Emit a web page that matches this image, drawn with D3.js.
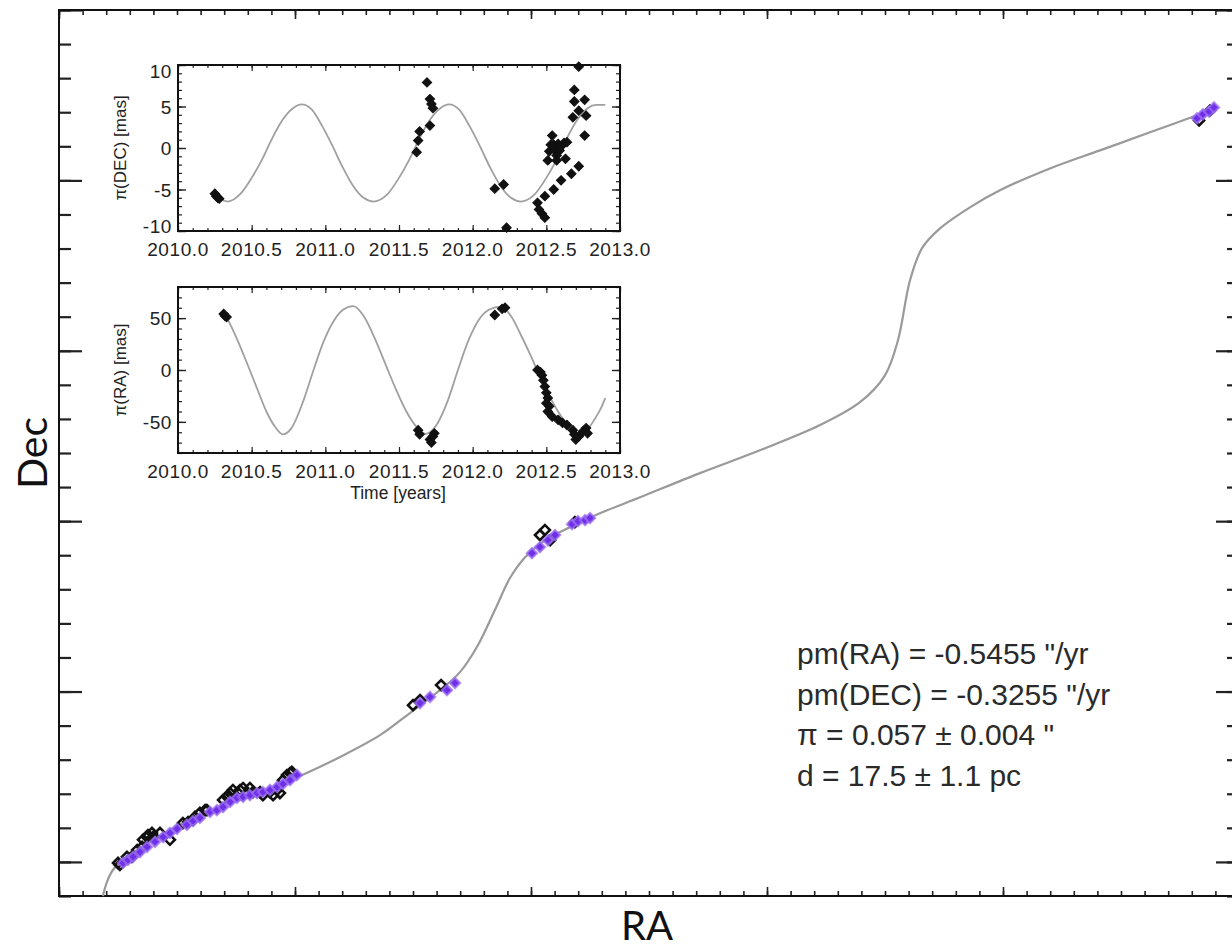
<!DOCTYPE html>
<html><head><meta charset="utf-8">
<script src="https://cdn.jsdelivr.net/npm/d3@7"></script>
<style>body{margin:0;background:#fff;} svg{display:block}</style>
</head><body><svg id="c" width="1232" height="950"></svg>
<script>
// ---------- main sky-path panel (arbitrary units, no tick labels) ----------
const pathCurve = [[1.86,-1.0],[2.03,-0.59],[2.29,-0.23],[2.71,0.06],[3.86,0.59],[5.13,1.09],[6.40,1.50],[7.67,1.82],[8.94,2.14],[10.21,2.52],[11.91,3.08],[13.60,3.72],[14.87,4.37],[16.14,5.04],[16.99,5.57],[17.75,6.36],[18.47,7.39],[19.11,8.33],[19.75,8.94],[20.59,9.44],[21.65,9.82],[22.92,10.23],[24.62,10.70],[27.16,11.41],[29.70,12.08],[32.25,12.82],[33.94,13.49],[35.00,14.28],[35.55,15.31],[36.06,17.07],[36.57,18.01],[37.33,18.59],[38.60,19.21],[39.87,19.71],[41.99,20.35],[44.11,20.88],[46.23,21.41],[48.22,21.91]];
const obsRA  = [2.50,2.58,2.88,3.09,3.31,3.52,3.56,3.73,3.77,3.94,3.98,4.28,4.70,5.25,5.47,5.68,5.76,5.97,6.19,6.27,6.95,7.12,7.25,7.37,7.67,7.80,8.09,8.22,8.52,8.64,8.94,9.07,9.24,9.36,9.49,9.66,9.79,9.87,15.00,15.30,16.19,20.38,20.59,20.81,21.86,48.31,48.77];
const obsDec = [-0.03,-0.09,0.15,0.15,0.35,0.44,0.65,0.73,0.79,0.85,0.73,0.85,0.65,1.14,1.17,1.23,1.32,1.44,1.52,1.52,1.82,1.91,2.02,2.11,2.11,2.17,2.17,2.05,2.05,1.96,2.05,1.96,2.11,2.02,2.40,2.55,2.61,2.64,4.60,4.75,5.19,9.59,9.74,9.44,9.97,21.76,22.05];
const fitRA  = [2.71,2.92,3.14,3.43,3.73,4.07,4.41,4.70,5.00,5.42,5.68,5.97,6.40,6.69,6.95,7.25,7.54,7.80,8.09,8.39,8.64,8.94,9.24,9.49,9.79,10.08,15.30,15.72,16.44,16.78,20.04,20.38,20.72,21.02,21.74,21.99,22.29,22.50,48.22,48.47,48.73,48.94];
const fitDec = [-0.03,0.06,0.15,0.29,0.44,0.59,0.73,0.85,0.97,1.09,1.20,1.29,1.47,1.52,1.61,1.76,1.88,1.91,1.96,2.02,2.05,2.11,2.20,2.29,2.40,2.55,4.66,4.84,5.04,5.25,9.06,9.24,9.44,9.59,9.91,10.00,10.03,10.09,21.82,21.94,22.02,22.14];
const statLines = ["pm(RA) = -0.5455 \"/yr", "pm(DEC) = -0.3255 \"/yr", "\u03c0 = 0.057 \u00b1 0.004 \"", "d = 17.5 \u00b1 1.1 pc"];

// ---------- inset: parallax in DEC ----------
const decCurve = [[2010.24,-5.7],[2010.29,-6.2],[2010.34,-6.45],[2010.42,-5.6],[2010.50,-3.6],[2010.57,-1.4],[2010.64,1.2],[2010.71,3.4],[2010.78,4.8],[2010.84,5.25],[2010.91,4.6],[2010.98,2.6],[2011.05,0.2],[2011.12,-2.4],[2011.19,-4.6],[2011.26,-6.0],[2011.33,-6.45],[2011.42,-5.6],[2011.50,-3.6],[2011.57,-1.4],[2011.64,1.2],[2011.71,3.4],[2011.78,4.8],[2011.84,5.25],[2011.91,4.6],[2011.98,2.6],[2012.05,0.2],[2012.12,-2.4],[2012.19,-4.6],[2012.26,-6.0],[2012.33,-6.45],[2012.42,-5.6],[2012.50,-3.6],[2012.57,-1.4],[2012.64,1.2],[2012.71,3.4],[2012.78,4.8],[2012.84,5.2],[2012.90,5.2]];
const decObsT = [2010.25,2010.26,2010.27,2010.28,2011.62,2011.63,2011.64,2011.69,2011.71,2011.72,2011.73,2011.71,2012.15,2012.21,2012.23,2012.44,2012.45,2012.47,2012.49,2012.49,2012.55,2012.60,2012.67,2012.72,2012.51,2012.52,2012.53,2012.54,2012.55,2012.56,2012.57,2012.58,2012.59,2012.60,2012.62,2012.63,2012.64,2012.57,2012.69,2012.69,2012.72,2012.72,2012.68,2012.76,2012.77,2012.76];
const decObsV = [-5.5,-5.8,-6.0,-6.1,-0.5,0.9,2.0,7.9,5.9,5.3,4.8,2.7,-4.9,-4.4,-9.6,-6.6,-7.4,-7.9,-8.4,-5.8,-5.0,-3.9,-3.1,-2.2,-1.5,-0.4,0.4,1.5,0.4,-0.3,-0.9,0.5,-0.3,0.2,0.6,-1.3,0.7,-1.5,7.0,5.6,9.8,4.5,3.7,5.8,3.9,1.5];

// ---------- inset: parallax in RA ----------
const raCurve = [[2010.32,54],[2010.40,30],[2010.47,6],[2010.54,-19],[2010.60,-40],[2010.66,-55],[2010.71,-62],[2010.77,-56],[2010.85,-30],[2010.92,0],[2010.99,28],[2011.06,48],[2011.12,58],[2011.19,61.5],[2011.26,52],[2011.34,29],[2011.41,5],[2011.48,-19],[2011.55,-40],[2011.62,-55],[2011.68,-61.5],[2011.75,-54],[2011.83,-30],[2011.90,0],[2011.97,28],[2012.04,48],[2012.11,58],[2012.19,61],[2012.26,52],[2012.33,33],[2012.39,15],[2012.45,-4],[2012.51,-22],[2012.58,-40],[2012.65,-54],[2012.72,-61],[2012.78,-57],[2012.83,-47],[2012.87,-37],[2012.90,-27]];
const raObsT = [2010.31,2010.32,2010.33,2011.63,2011.64,2011.71,2011.72,2011.74,2011.73,2012.15,2012.20,2012.22,2012.44,2012.46,2012.47,2012.48,2012.49,2012.50,2012.51,2012.50,2012.52,2012.51,2012.54,2012.58,2012.61,2012.64,2012.68,2012.69,2012.72,2012.70,2012.75,2012.77,2012.78];
const raObsV = [54,52,51,-58,-62,-67,-70,-61,-64,53,59,60,0,-2,-5,-10,-16,-22,-27,-32,-35,-40,-45,-48,-51,-53,-58,-62,-64,-67,-59,-56,-61];

const yearTicks = [2010.0,2010.5,2011.0,2011.5,2012.0,2012.5,2013.0];
const decTicks = [-10,-5,0,5,10];
const raTicks = [-50,0,50];

// =====================================================================
const svg = d3.select("#c");
const W = 1232, H = 950;
svg.append("rect").attr("width",W).attr("height",H).attr("fill","#fff");

const x = d3.scaleLinear().domain([0,50]).range([59,1239]);
const y = d3.scaleLinear().domain([-1,25]).range([896,10]);

function ticksAxis(g, axisFn, scale, vals, size, sw){
  const a = axisFn(scale).tickValues(vals).tickSize(size).tickFormat("");
  g.call(a);
  g.select(".domain").remove();
  g.selectAll("line").attr("stroke","#222").attr("stroke-width",sw);
}
const rng = (a,b,s)=>d3.range(a,b+s/2,s);

const main = svg.append("g");
ticksAxis(main.append("g").attr("transform","translate(0,896)"), d3.axisBottom, x, rng(0,50,1), -5, 1.6);
ticksAxis(main.append("g").attr("transform","translate(0,896)"), d3.axisBottom, x, rng(0,50,10), -9, 1.6);
ticksAxis(main.append("g").attr("transform","translate(0,10)"), d3.axisTop, x, rng(0,50,1), -5, 1.6);
ticksAxis(main.append("g").attr("transform","translate(0,10)"), d3.axisTop, x, rng(0,50,10), -9, 1.6);
ticksAxis(main.append("g").attr("transform","translate(59,0)"), d3.axisLeft, y, rng(-1,25,1), -12, 2.2);
ticksAxis(main.append("g").attr("transform","translate(59,0)"), d3.axisLeft, y, rng(0,25,5), -23, 2.2);
ticksAxis(main.append("g").attr("transform","translate(1239,0)"), d3.axisRight, y, rng(-1,25,1), -12, 2.2);
ticksAxis(main.append("g").attr("transform","translate(1239,0)"), d3.axisRight, y, rng(0,25,5), -23, 2.2);
main.append("rect").attr("x",59).attr("y",10).attr("width",1239-59).attr("height",886)
  .attr("fill","none").attr("stroke","#111").attr("stroke-width",2);

main.append("path").datum(pathCurve)
  .attr("d", d3.line().x(d=>x(d[0])).y(d=>y(d[1])).curve(d3.curveCatmullRom.alpha(0.5)))
  .attr("fill","none").attr("stroke","#9a9a9a").attr("stroke-width",2.2);

const sq = d3.symbol().type(d3.symbolSquare);
main.append("g").selectAll("path").data(obsRA).join("path")
  .attr("d", sq.size(50)())
  .attr("transform",(d,i)=>`translate(${x(d)},${y(obsDec[i])}) rotate(45)`)
  .attr("fill","none").attr("stroke","#111").attr("stroke-width",2.6);
main.append("g").selectAll("path").data(fitRA).join("path")
  .attr("d", sq.size(52)())
  .attr("transform",(d,i)=>`translate(${x(d)},${y(fitDec[i])}) rotate(45)`)
  .attr("fill","#6f2ee8").attr("stroke","#9c70f2").attr("stroke-width",2.2).attr("stroke-opacity",0.75);

main.append("g").selectAll("text").data(statLines).join("text")
  .attr("x",797).attr("y",(d,i)=>664+i*40.7)
  .attr("font-family","'Liberation Sans', Arial, sans-serif").attr("font-size",30)
  .attr("fill","#2a2a2a").text(d=>d);

svg.append("text").attr("x",647).attr("y",940).attr("text-anchor","middle")
  .attr("font-family","Lato, sans-serif").attr("font-size",40).attr("fill","#111").text("RA");
svg.append("text").attr("transform","translate(47,453) rotate(-90)").attr("text-anchor","middle")
  .attr("font-family","Lato, sans-serif").attr("font-size",41).attr("fill","#111").text("Dec");

// =====================================================================
function inset(top, bottom, ydom, yMinor, yTickVals, curve, obsT, obsV, ylabel, showTime){
  const g = svg.append("g");
  const ix = d3.scaleLinear().domain([2010,2013]).range([178,620]);
  const iy = d3.scaleLinear().domain(ydom).range([bottom, top]);
  g.append("rect").attr("x",178).attr("y",top).attr("width",442).attr("height",bottom-top).attr("fill","#fff");
  const minX = rng(2010,2013,0.1), majX = rng(2010,2013,0.5);
  ticksAxis(g.append("g").attr("transform",`translate(0,${bottom})`), d3.axisBottom, ix, minX, -3, 1.2);
  ticksAxis(g.append("g").attr("transform",`translate(0,${bottom})`), d3.axisBottom, ix, majX, -6, 1.2);
  ticksAxis(g.append("g").attr("transform",`translate(0,${top})`), d3.axisTop, ix, minX, -3, 1.2);
  ticksAxis(g.append("g").attr("transform",`translate(0,${top})`), d3.axisTop, ix, majX, -6, 1.2);
  const minY = rng(ydom[0], ydom[1], yMinor).filter(v=>v>=ydom[0]&&v<=ydom[1]);
  ticksAxis(g.append("g").attr("transform",`translate(178,0)`), d3.axisLeft, iy, minY, -4, 1.2);
  ticksAxis(g.append("g").attr("transform",`translate(178,0)`), d3.axisLeft, iy, yTickVals, -8, 1.4);
  ticksAxis(g.append("g").attr("transform",`translate(620,0)`), d3.axisRight, iy, minY, -4, 1.2);
  ticksAxis(g.append("g").attr("transform",`translate(620,0)`), d3.axisRight, iy, yTickVals, -8, 1.4);
  g.append("rect").attr("x",178).attr("y",top).attr("width",442).attr("height",bottom-top)
    .attr("fill","none").attr("stroke","#111").attr("stroke-width",2);
  const f = "'Liberation Sans', Arial, sans-serif";
  g.append("g").selectAll("text").data(yearTicks).join("text")
    .attr("x",d=>ix(d)).attr("y",bottom+25).attr("text-anchor","middle")
    .attr("font-family",f).attr("font-size",19).attr("letter-spacing",0.6).attr("fill","#222").text(d=>d.toFixed(1));
  g.append("g").selectAll("text").data(yTickVals).join("text")
    .attr("x",172).attr("y",d=>Math.min(bottom+2, Math.max(top+13, iy(d)+7))).attr("text-anchor","end")
    .attr("font-family",f).attr("font-size",19).attr("letter-spacing",0.6).attr("fill","#222").text(d=>d);
  g.append("text").attr("transform",`translate(126,${(top+bottom)/2}) rotate(-90)`).attr("text-anchor","middle")
    .attr("font-family",f).attr("font-size",17).attr("fill","#222").text(ylabel);
  if(showTime){
    g.append("text").attr("x",398).attr("y",bottom+46).attr("text-anchor","middle")
      .attr("font-family",f).attr("font-size",17.5).attr("fill","#222").text("Time [years]");
  }
  g.append("path").datum(curve)
    .attr("d", d3.line().x(d=>ix(d[0])).y(d=>iy(d[1])).curve(d3.curveMonotoneX))
    .attr("fill","none").attr("stroke","#a0a0a0").attr("stroke-width",1.8);
  g.append("g").selectAll("path").data(obsT).join("path")
    .attr("d", d3.symbol().type(d3.symbolSquare).size(44)())
    .attr("transform",(d,i)=>`translate(${ix(d)},${iy(obsV[i])}) rotate(45)`)
    .attr("fill","#111").attr("stroke","#111").attr("stroke-width",1);
}
inset(65, 231, [-10,10], 1, decTicks, decCurve, decObsT, decObsV, "\u03c0(DEC) [mas]", false);
inset(287, 453, [-80,80], 10, raTicks, raCurve, raObsT, raObsV, "\u03c0(RA) [mas]", true);
</script></body></html>
